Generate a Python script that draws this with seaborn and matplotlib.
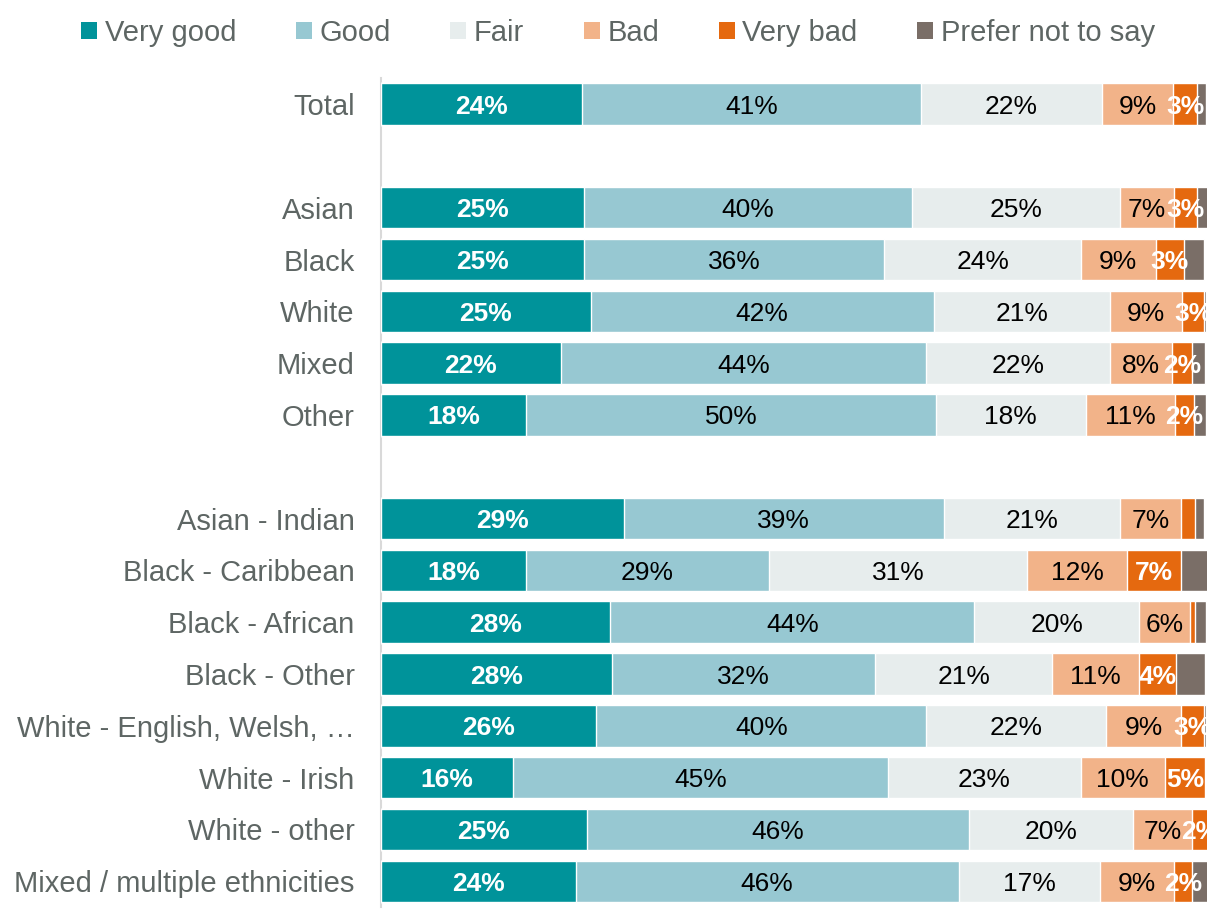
import numpy as np
import pandas as pd
import matplotlib
matplotlib.use("Agg")
import matplotlib.pyplot as plt
from matplotlib.patches import Patch
import seaborn as sns

categories = ["Total", "Asian", "Black", "White", "Mixed", "Other",
              "Asian - Indian", "Black - Caribbean", "Black - African", "Black - Other",
              "White - English, Welsh, \u2026", "White - Irish", "White - other",
              "Mixed / multiple ethnicities"]
series = ["Very good", "Good", "Fair", "Bad", "Very bad", "Prefer not to say"]

very_good = [24.4, 24.6, 24.6, 25.4, 21.8, 17.6, 29.4, 17.6, 27.8, 28.0, 26.1, 16.0, 24.9, 23.6]
good      = [41.0, 39.7, 36.4, 41.6, 44.3, 49.6, 38.8, 29.4, 44.1, 31.9, 40.0, 45.4, 46.4, 46.4]
fair      = [22.0, 25.2, 23.8, 21.4, 22.2, 18.2, 21.4, 31.3, 20.0, 21.4, 21.8, 23.4, 19.8, 17.1]
bad       = [8.6, 6.6, 9.1, 8.7, 7.6, 10.8, 7.4, 12.1, 6.2, 10.6, 9.1, 10.2, 7.2, 9.0]
very_bad  = [2.9, 2.8, 3.4, 2.6, 2.4, 2.3, 1.6, 6.6, 0.6, 4.4, 2.7, 4.9, 2.0, 2.2]
prefer_not = [1.1, 1.3, 2.4, 0.3, 1.6, 1.5, 1.1, 3.3, 1.3, 3.6, 0.3, 0.0, 0.0, 1.9]

colors = ["#00939A", "#97C8D2", "#E7EDED", "#F2B389", "#E5690F", "#7A6E67"]
label_colors = ["white", "black", "black", "black", "white", None]
label_weights = ["bold", "normal", "normal", "normal", "bold", "normal"]
text_gray = "#5E6664"

# order including blank spacer rows
order = ["Total", "gap1", "Asian", "Black", "White", "Mixed", "Other", "gap2",
         "Asian - Indian", "Black - Caribbean", "Black - African", "Black - Other",
         "White - English, Welsh, \u2026", "White - Irish", "White - other",
         "Mixed / multiple ethnicities"]

vals = np.array([very_good, good, fair, bad, very_bad, prefer_not])  # series x cats
cum = np.cumsum(vals, axis=0)

df = pd.DataFrame({"category": categories})
for i, s in enumerate(series):
    df[s] = vals[i]
    df[s + "_cum"] = cum[i]

plt.rcParams['font.family'] = ['Liberation Sans', 'DejaVu Sans']
fig = plt.figure(figsize=(12.07, 9.09), dpi=100)
ax = fig.add_axes([0.3157, 0.002, 0.6843, 0.912])

for i in reversed(range(len(series))):
    sns.barplot(data=df, x=series[i] + "_cum", y="category", order=order,
                color=colors[i], orient="h", width=0.8, ax=ax,
                edgecolor="white", linewidth=1.0, saturation=1, errorbar=None)

# segment labels
for j, cat in enumerate(categories):
    ypos = order.index(cat)
    for i in range(len(series)):
        if label_colors[i] is None:
            continue
        v = vals[i, j]
        if v < 1.95:
            continue
        xc = cum[i, j] - v / 2
        ax.text(xc, ypos, f"{int(round(v))}%", ha="center", va="center_baseline",
                color=label_colors[i], fontsize=19, fontweight=label_weights[i])

ax.set_xlim(0, 100.1)
ax.set_ylim(len(order) - 0.5, -0.5)
ax.set_xlabel("")
ax.set_ylabel("")
ax.set_xticks([])
ax.set_yticks(range(len(order)))
ax.set_yticklabels([c if not c.startswith("gap") else "" for c in order],
                   fontsize=21, color=text_gray)
ax.tick_params(axis="y", length=0, pad=19)
for sp in ["top", "right", "bottom"]:
    ax.spines[sp].set_visible(False)
ax.spines["left"].set_color("#D9D9D9")
ax.spines["left"].set_linewidth(1.5)
ax.spines["left"].set_zorder(0)

handles = [Patch(facecolor=c, edgecolor="none") for c in colors]
fig.legend(handles, series, loc="upper center", bbox_to_anchor=(0.512, 1.008),
           ncol=6, frameon=False, fontsize=21, labelcolor=text_gray,
           handlelength=0.55, handleheight=0.55, handletextpad=0.25, columnspacing=2.05)

fig.savefig("out.png", dpi=100, facecolor="white")
